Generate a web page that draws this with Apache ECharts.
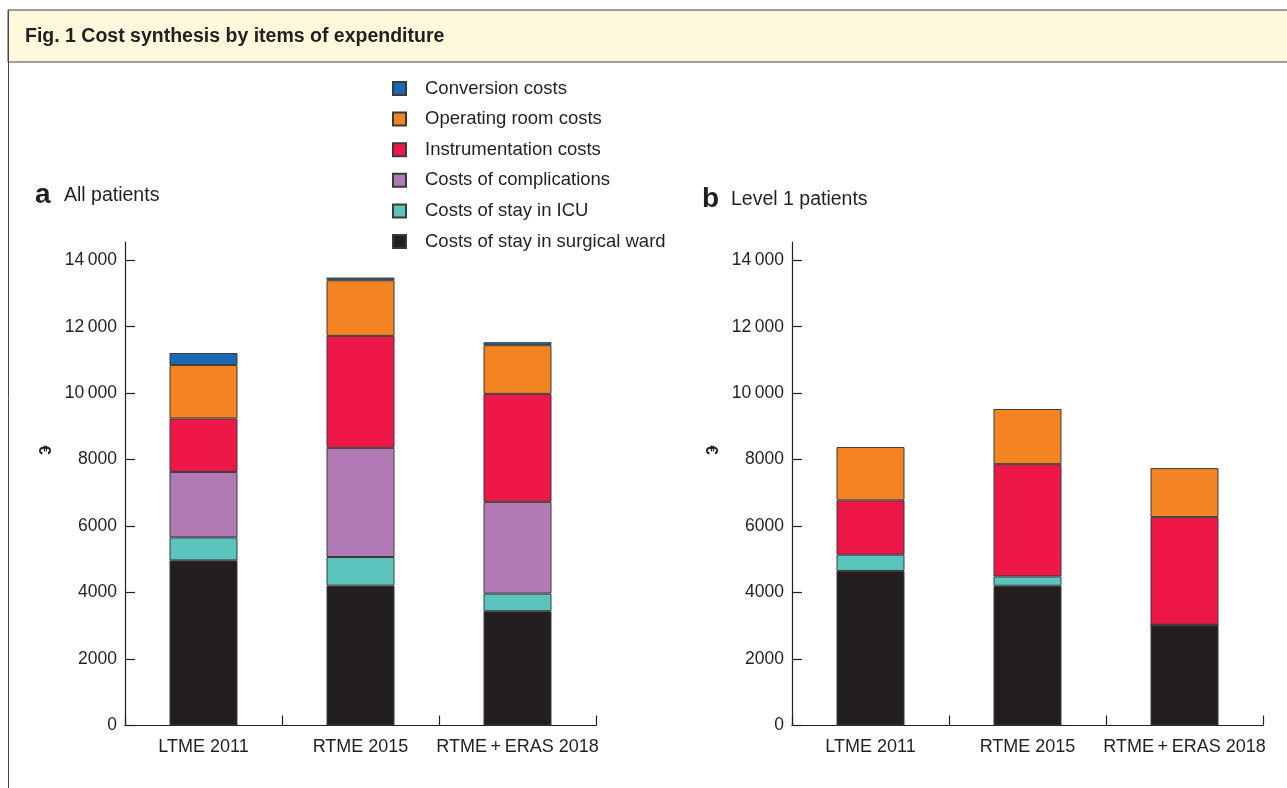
<!DOCTYPE html>
<html>
<head>
<meta charset="utf-8">
<script src="https://cdn.jsdelivr.net/npm/echarts@6/dist/echarts.min.js"></script>
<style>
html,body{margin:0;padding:0;background:#fff;}
#chart{width:1287px;height:788px;}
</style>
</head>
<body>
<div id="chart"></div>
<script>
const categories = ['LTME 2011', 'RTME 2015', 'RTME\u2009+\u2009ERAS 2018'];
const seriesNames = ['Costs of stay in surgical ward', 'Costs of stay in ICU', 'Costs of complications', 'Instrumentation costs', 'Operating room costs', 'Conversion costs'];
const legendOrder = ['Conversion costs', 'Operating room costs', 'Instrumentation costs', 'Costs of complications', 'Costs of stay in ICU', 'Costs of stay in surgical ward'];
// Panel a: All patients
const allWard = [4970, 4210, 3440];
const allICU = [690, 860, 530];
const allCompl = [1970, 3285, 2760];
const allInstr = [1610, 3370, 3250];
const allOR = [1610, 1675, 1465];
const allConv = [360, 80, 90];
// Panel b: Level 1 patients
const l1Ward = [4650, 4205, 3035];
const l1ICU = [490, 280, 0];
const l1Instr = [1635, 3380, 3235];
const l1OR = [1605, 1660, 1475];
const yTicks = [0, 2000, 4000, 6000, 8000, 10000, 12000, 14000];

const colors = {
  'Costs of stay in surgical ward': '#231F20',
  'Costs of stay in ICU': '#5BC5BD',
  'Costs of complications': '#B27AB4',
  'Instrumentation costs': '#ED1847',
  'Operating room costs': '#F38421',
  'Conversion costs': '#1B68B3'
};
const txt = '#231F20';
const font = 'Liberation Sans, Arial, Helvetica, sans-serif';

function fmt(v){
  if (v >= 10000) { const s = String(v); return s.slice(0, s.length-3) + '\u2009' + s.slice(-3); }
  return String(v);
}

function mkSeries(name, data, idx){
  return {
    name: name, type: 'bar', stack: 'total' + idx,
    xAxisIndex: idx, yAxisIndex: idx,
    barWidth: 68,
    data: data,
    itemStyle: { color: colors[name], borderColor: '#3a3a3a', borderWidth: 1 },
    emphasis: { disabled: true }
  };
}

function xAx(idx){
  return {
    type: 'category', gridIndex: idx, data: categories,
    axisLine: { lineStyle: { color: txt, width: 1.2 } },
    axisTick: { show: true, inside: true, length: 10, lineStyle: { color: txt, width: 1.2 } },
    axisLabel: { color: txt, fontSize: 18, fontFamily: font, margin: 13, interval: 0 }
  };
}
function yAx(idx){
  return {
    type: 'value', gridIndex: idx, min: 0, max: 14550, interval: 2000,
    splitLine: { show: false },
    axisLine: { show: true, lineStyle: { color: txt, width: 1.2 } },
    axisTick: { show: true, inside: true, length: 10, customValues: yTicks, lineStyle: { color: txt, width: 1.2 } },
    axisLabel: { color: txt, fontSize: 17.5, fontFamily: font, margin: 8, customValues: yTicks, formatter: fmt }
  };
}

const chart = echarts.init(document.getElementById('chart'), null, { renderer: 'canvas' });
chart.setOption({
  backgroundColor: '#ffffff',
  animation: false,
  textStyle: { fontFamily: font },
  graphic: [
    { type: 'rect', shape: { x: 8, y: 10, width: 1300, height: 52 }, style: { fill: '#FEF9DC', stroke: '#444', lineWidth: 1 }, z: 0 },
    { type: 'line', shape: { x1: 8.5, y1: 10, x2: 8.5, y2: 800 }, style: { stroke: '#444', lineWidth: 1 } },
    { type: 'text', x: 25, y: 37, style: { text: 'Fig. 1 Cost synthesis by items of expenditure', font: 'bold 19.5px ' + font, fill: txt, textVerticalAlign: 'middle' } },
    { type: 'text', x: 35, y: 195, style: { text: 'a', font: 'bold 28px ' + font, fill: txt, textVerticalAlign: 'middle' } },
    { type: 'text', x: 64, y: 196, style: { text: 'All patients', font: '19.5px ' + font, fill: txt, textVerticalAlign: 'middle' } },
    { type: 'text', x: 702, y: 199, style: { text: 'b', font: 'bold 28px ' + font, fill: txt, textVerticalAlign: 'middle' } },
    { type: 'text', x: 731, y: 200, style: { text: 'Level 1 patients', font: '19.5px ' + font, fill: txt, textVerticalAlign: 'middle' } },
    { type: 'text', x: 44, y: 450, rotation: -Math.PI/2, style: { text: '€', font: 'bold 17px ' + font, fill: txt, textAlign: 'center', textVerticalAlign: 'middle' } },
    { type: 'text', x: 711, y: 450, rotation: -Math.PI/2, style: { text: '€', font: 'bold 17px ' + font, fill: txt, textAlign: 'center', textVerticalAlign: 'middle' } }
  ],
  legend: {
    orient: 'vertical', left: 392, top: 79, padding: 0,
    data: legendOrder,
    icon: 'rect', itemWidth: 13, itemHeight: 13, itemGap: 11.6,
    textStyle: { color: txt, fontSize: 18.5, fontFamily: font, padding: [0, 0, 0, 14] },
    selectedMode: false
  },
  grid: [
    { left: 125, width: 471, top: 242, bottom: 62.5 },
    { left: 792, width: 471, top: 242, bottom: 62.5 }
  ],
  xAxis: [xAx(0), xAx(1)],
  yAxis: [yAx(0), yAx(1)],
  series: [
    mkSeries('Costs of stay in surgical ward', allWard, 0),
    mkSeries('Costs of stay in ICU', allICU, 0),
    mkSeries('Costs of complications', allCompl, 0),
    mkSeries('Instrumentation costs', allInstr, 0),
    mkSeries('Operating room costs', allOR, 0),
    mkSeries('Conversion costs', allConv, 0),
    mkSeries('Costs of stay in surgical ward', l1Ward, 1),
    mkSeries('Costs of stay in ICU', l1ICU, 1),
    mkSeries('Instrumentation costs', l1Instr, 1),
    mkSeries('Operating room costs', l1OR, 1)
  ]
});
</script>
</body>
</html>
